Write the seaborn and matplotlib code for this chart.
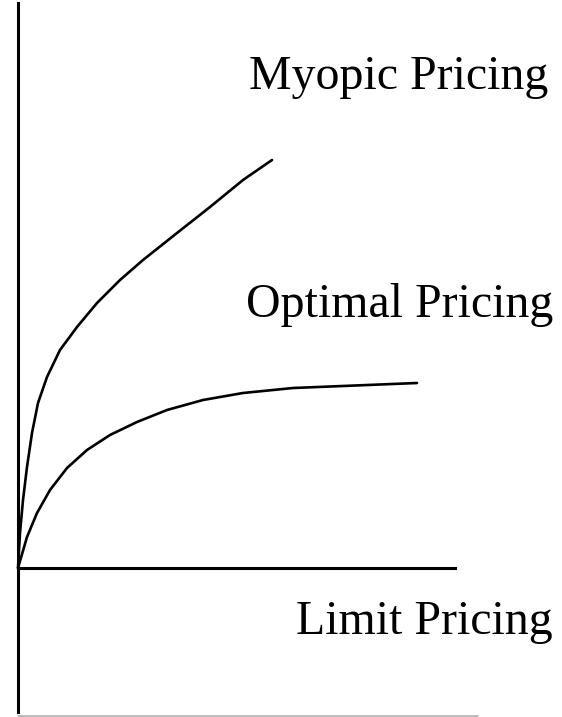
import matplotlib
matplotlib.use("Agg")
import matplotlib.pyplot as plt
import seaborn as sns
import pandas as pd

# curve points (x along horizontal axis, y upward from the baseline)
myopic_x = [0, 1, 2, 5, 9, 14, 20, 29, 42, 59, 79, 102, 125, 159, 192, 225, 254]
myopic_y = [0, 18, 35, 68, 101, 135, 165, 191, 218, 241, 265, 288, 308, 335, 361, 388, 408]

optimal_x = [0, 9, 19, 32, 49, 69, 92, 119, 149, 185, 225, 275, 325, 399]
optimal_y = [0, 31, 55, 78, 100, 118, 133, 146, 158, 168, 175, 180, 182, 185]

labels = ["Myopic Pricing", "Optimal Pricing", "Limit Pricing"]
label_x = [530, 535, 535]
label_y = [479, 251, -66]

sns.set_style("white")
plt.rcParams['font.family'] = ['Liberation Serif', 'DejaVu Serif']

fig = plt.figure(figsize=(5.62, 7.17), dpi=100)
ax = fig.add_axes([0, 0, 1, 1])

df_m = pd.DataFrame({'x': myopic_x, 'y': myopic_y})
df_o = pd.DataFrame({'x': optimal_x, 'y': optimal_y})
sns.lineplot(data=df_m, x='x', y='y', ax=ax, color='black', lw=1.9, sort=False)
sns.lineplot(data=df_o, x='x', y='y', ax=ax, color='black', lw=1.9, sort=False)

for txt, tx, ty in zip(labels, label_x, label_y):
    ax.text(tx, ty, txt, ha='right', va='baseline', fontsize=34.5, color='black')

ax.set_xlim(-18, 544)
ax.set_ylim(-149, 568)

# axes drawn as spines
ax.spines['left'].set_position(('data', 0))
ax.spines['left'].set_bounds(-144, 565)
ax.spines['bottom'].set_position(('data', 0))
ax.spines['bottom'].set_bounds(0, 437)
for s in ['left', 'bottom']:
    ax.spines[s].set_linewidth(2.2)
    ax.spines[s].set_color('black')
for s in ['top', 'right']:
    ax.spines[s].set_visible(False)
ax.axhline(-147.5, xmin=18/562, xmax=478/562, color='#b0b0b0', lw=1.2)

ax.set_xticks([])
ax.set_yticks([])
ax.set_xlabel('')
ax.set_ylabel('')

fig.savefig('out.png', dpi=100, facecolor='white')
